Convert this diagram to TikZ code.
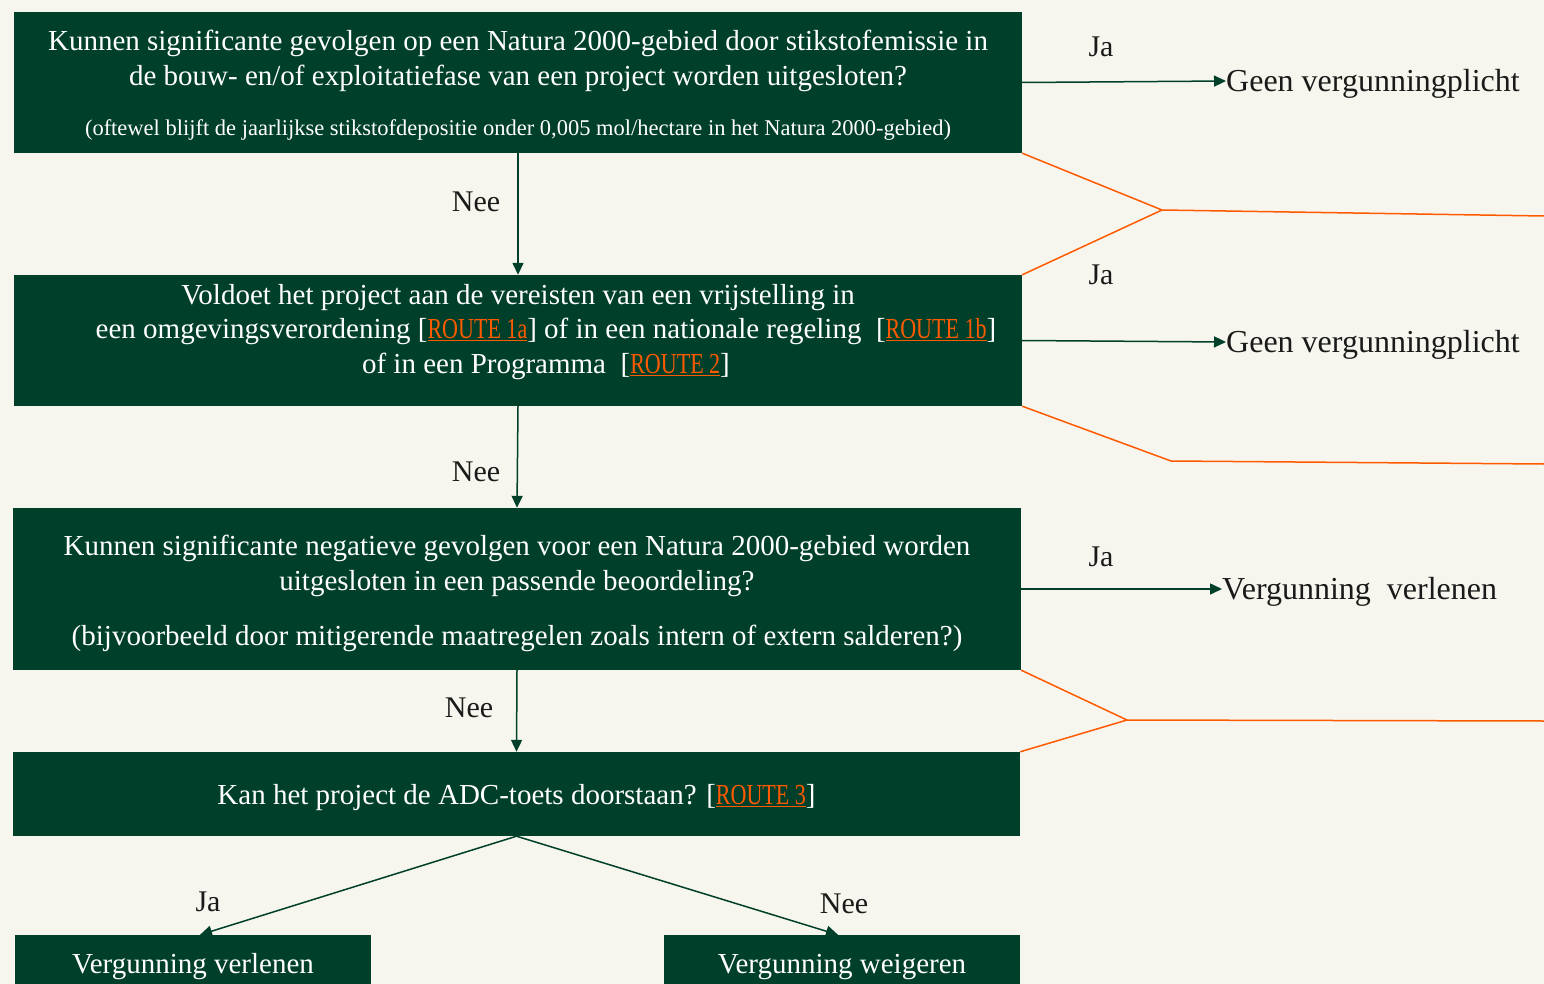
\documentclass[tikz,border=0pt]{standalone}
\usepackage{fontspec}
\usepackage{graphicx}
\setmainfont{Liberation Serif}
\usetikzlibrary{arrows.meta}
\definecolor{bosgroen}{HTML}{00402A}
\definecolor{oranje}{HTML}{FF5A00}
\definecolor{papier}{HTML}{F7F6EE}
\definecolor{inkt}{HTML}{1A1A1A}
\newcommand{\route}[1]{\textcolor{oranje}{\underline{\scalebox{0.76}[1]{#1}}}}

\begin{document}
\begin{tikzpicture}[x=1pt,y=-1pt,
    vak/.style={fill=bosgroen,inner sep=0pt,minimum width=1008pt},
    tekst/.style={text=white,align=center,font=\fontsize{29}{34.5}\selectfont},
    pijl/.style={draw=bosgroen,line width=1.5pt,-{Triangle[length=12pt,width=11pt]}},
    tak/.style={draw=oranje,line width=1.5pt},
    uitkomst/.style={anchor=west,text=inkt,inner sep=0pt,text height=21pt,text depth=0pt,font=\fontsize{32}{36}\selectfont},
    antw/.style={text=inkt,font=\fontsize{30}{34}\selectfont}]
      \fill[papier] (0,0) rectangle (1544,984);
      \useasboundingbox (0,0) rectangle (1544,984);
      % vragen
      \node[vak,minimum height=141pt](k1) at (518,82.5) {};
      \node[vak,minimum height=131pt](k2) at (518,340.5) {};
      \node[vak,minimum height=162pt](k3) at (517,589) {};
      \node[vak,minimum height=84pt,minimum width=1007pt](k4) at (516.5,794) {};
      \node[vak,minimum height=49pt,minimum width=356pt](k5) at (193,959.5) {};
      \node[vak,minimum height=49pt,minimum width=356pt](k6) at (842,959.5) {};
      \node[tekst] at (518,85.5) {Kunnen significante gevolgen op een Natura 2000-gebied door stikstofemissie in\\
        de bouw- en/of exploitatiefase van een project worden uitgesloten?\\[16pt]
        {\fontsize{22.5}{24}\selectfont (oftewel blijft de jaarlijkse stikstofdepositie onder 0,005 mol/hectare in het Natura 2000-gebied)}};
      \node[tekst] at (546,332) {Voldoet het project aan de vereisten van een vrijstelling in\hspace*{56pt}\\
        een omgevingsverordening [\route{ROUTE 1a}] of in een nationale regeling~ [\route{ROUTE 1b}]\\
        of in een Programma~ [\route{ROUTE 2}]};
      \node[tekst] at (517,593.5) {Kunnen significante negatieve gevolgen voor een Natura 2000-gebied worden\\
        uitgesloten in een passende beoordeling?\\[21pt]
        (bijvoorbeeld door mitigerende maatregelen zoals intern of extern salderen?)};
      \node[tekst] at (516.5,798) {Kan het project de ADC-toets doorstaan? [\route{ROUTE 3}]};
      \node[tekst] at (193,967) {Vergunning verlenen};
      \node[tekst] at (842,967) {Vergunning weigeren};
      % uitkomsten
      \node[uitkomst](u1) at (1226,81) {Geen vergunningplicht};
      \node[uitkomst](u2) at (1226,342) {Geen vergunningplicht};
      \node[uitkomst](u3) at (1222,589) {Vergunning~ verlenen};
      \draw[pijl] (k1.east) -- (u1.west);
      \draw[pijl] (k2.east) -- (u2.west);
      \draw[pijl] (k3.east) -- (u3.west);
      \draw[pijl] (k1.south) -- (k2.north);
      \draw[pijl] (k2.south) -- (k3.north);
      \draw[pijl] (k3.south) -- (k4.north);
      \draw[pijl] (k4.south) -- ([xshift=7pt]k5.north);
      \draw[pijl] (k4.south) -- ([xshift=-4pt]k6.north);
      \node[antw] at (1101,47) {Ja};
      \node[antw] at (1101,275) {Ja};
      \node[antw] at (1101,557) {Ja};
      \node[antw] at (476,202) {Nee};
      \node[antw] at (476,472) {Nee};
      \node[antw] at (469,708) {Nee};
      \node[antw] at (208,902) {Ja};
      \node[antw] at (844,904) {Nee};
      % oranje takken
      \coordinate(o1) at (1162,210);
      \coordinate(e1) at (1544,216);
      \coordinate(o2) at (1171,461);
      \coordinate(e2) at (1544,464);
      \coordinate(o3) at (1127,720);
      \coordinate(e3) at (1544,721);
      \draw[tak] (k1.south east) -- (o1) -- (e1) (k2.north east) -- (o1);
      \draw[tak] (k2.south east) -- (o2) -- (e2);
      \draw[tak] (k3.south east) -- (o3) -- (e3) (k4.north east) -- (o3);
\end{tikzpicture}
\end{document}
